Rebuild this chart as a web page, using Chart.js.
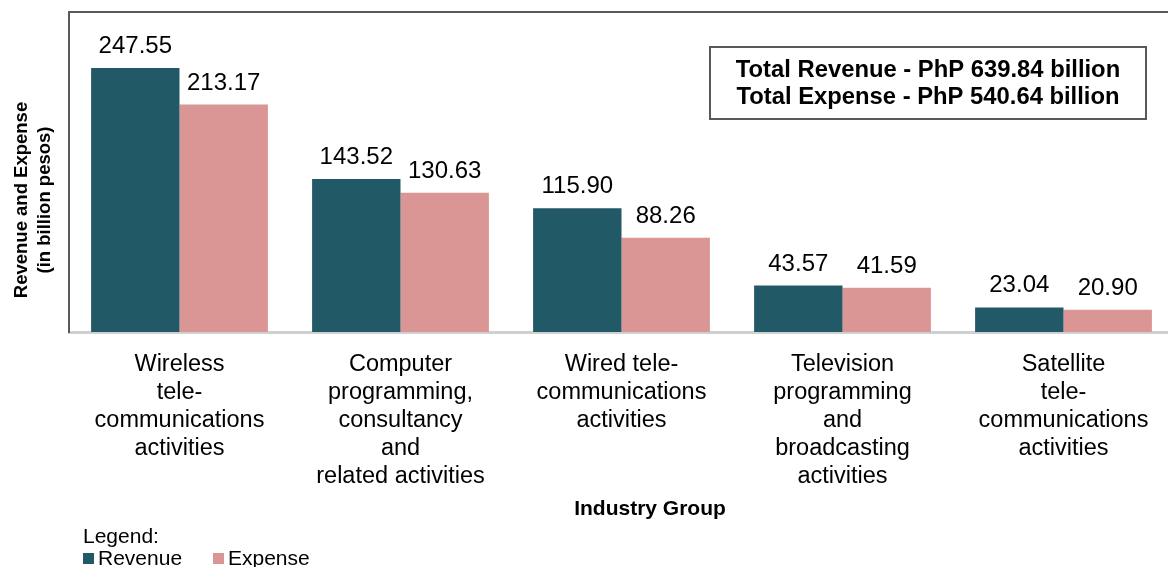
<!DOCTYPE html>
<html>
<head>
<meta charset="utf-8">
<script src="https://cdn.jsdelivr.net/npm/chart.js@4"></script>
<style>
  html, body { margin: 0; padding: 0; background: #fff; overflow: hidden; }
  #wrap { width: 1176px; height: 567px; position: relative; }
</style>
</head>
<body>
<div id="wrap"><canvas id="chart"></canvas></div>
<script>
const categories = [
  ["Wireless", "tele-", "communications", "activities"],
  ["Computer", "programming,", "consultancy", "and", "related activities"],
  ["Wired tele-", "communications", "activities"],
  ["Television", "programming", "and", "broadcasting", "activities"],
  ["Satellite", "tele-", "communications", "activities"]
];
const revenue = [247.55, 143.52, 115.90, 43.57, 23.04];
const expense = [213.17, 130.63, 88.26, 41.59, 20.90];
const totalLines = ["Total Revenue - PhP 639.84 billion", "Total Expense - PhP 540.64 billion"];
const yTitle = ["Revenue and Expense", "(in billion pesos)"];
const xTitle = "Industry Group";

const FONT = "'Liberation Sans', Arial, sans-serif";

// labels, frame, titles, totals box and legend
const extras = {
  id: 'extras',
  afterDatasetsDraw(chart) {
    const ctx = chart.ctx;
    const area = chart.chartArea;
    ctx.save();

    // top frame line
    ctx.strokeStyle = '#595959';
    ctx.lineWidth = 2;
    ctx.beginPath();
    ctx.moveTo(area.left, area.top);
    ctx.lineTo(chart.width, area.top);
    ctx.stroke();

    // value labels
    ctx.fillStyle = '#000';
    ctx.font = '24px ' + FONT;
    ctx.textAlign = 'center';
    ctx.textBaseline = 'alphabetic';
    chart.data.datasets.forEach((ds, i) => {
      chart.getDatasetMeta(i).data.forEach((bar, j) => {
        ctx.fillText(ds.data[j].toFixed(2), bar.x, bar.y - 15);
      });
    });

    // y title
    ctx.font = 'bold 18.5px ' + FONT;
    ctx.textBaseline = 'middle';
    ctx.save();
    ctx.translate(22, 200);
    ctx.rotate(-Math.PI / 2);
    ctx.fillText(yTitle[0], 0, 0);
    ctx.fillText(yTitle[1], 0, 23);
    ctx.restore();

    // x title
    ctx.font = 'bold 21px ' + FONT;
    ctx.fillText(xTitle, 650, 509);

    // totals box
    ctx.strokeStyle = '#595959';
    ctx.lineWidth = 2;
    ctx.strokeRect(710, 47, 436, 72);
    ctx.font = 'bold 23.8px ' + FONT;
    ctx.fillStyle = '#000';
    ctx.fillText(totalLines[0], 928, 70);
    ctx.fillText(totalLines[1], 928, 97);

    // legend
    ctx.textAlign = 'left';
    ctx.font = '21px ' + FONT;
    ctx.fillText('Legend:', 83, 537);
    const legendX = [83, 213];
    chart.data.datasets.forEach((ds, i) => {
      ctx.fillStyle = ds.backgroundColor;
      ctx.fillRect(legendX[i], 553, 11, 11);
      ctx.fillStyle = '#000';
      ctx.fillText(ds.label, legendX[i] + 15, 559);
    });
    ctx.restore();
  }
};

new Chart(document.getElementById('chart'), {
  type: 'bar',
  data: {
    labels: categories,
    datasets: [
      { label: 'Revenue', data: revenue, backgroundColor: '#225966' },
      { label: 'Expense', data: expense, backgroundColor: '#DA9694' }
    ]
  },
  options: {
    responsive: true,
    maintainAspectRatio: false,
    animation: false,
    layout: { padding: { left: 69, top: 12, right: 2, bottom: 0 } },
    datasets: { bar: { categoryPercentage: 0.8, barPercentage: 1.0 } },
    plugins: {
      legend: { display: false },
      tooltip: { enabled: false }
    },
    scales: {
      x: {
        grid: { display: false, drawTicks: false },
        border: { display: true, color: '#D0D0D0', width: 3 },
        ticks: {
          color: '#000',
          padding: 19,
          maxRotation: 0,
          autoSkip: false,
          font: { family: FONT, size: 23.5, lineHeight: 28 / 23.5 }
        },
        afterFit(s) { s.height = 235; }
      },
      y: {
        min: 0,
        max: 300,
        grid: { display: false, drawTicks: false },
        border: { display: true, color: '#595959', width: 2 },
        ticks: { display: false },
        afterFit(s) { s.width = 0; }
      }
    }
  },
  plugins: [extras]
});
</script>
</body>
</html>
